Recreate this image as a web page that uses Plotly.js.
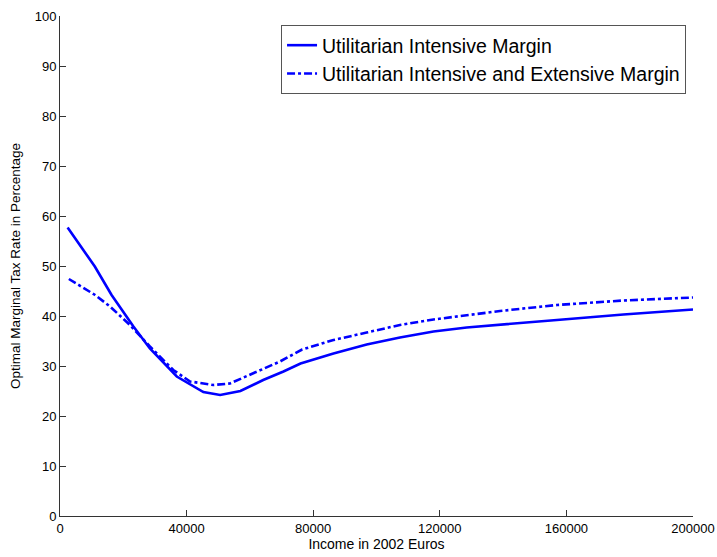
<!DOCTYPE html>
<html>
<head>
<meta charset="utf-8">
<script src="https://cdn.plot.ly/plotly-3.0.1.min.js"></script>
<style>html,body{margin:0;padding:0;background:#fff;}#chart{width:717px;height:557px;}</style>
</head>
<body>
<div id="chart"></div>
<script>
const seriesNames = ["Utilitarian Intensive Margin", "Utilitarian Intensive and Extensive Margin"];

const incomeIntensive = [2400, 11000, 16300, 23200, 28400, 36900, 45300, 50600, 57000, 64200, 70600, 76000, 86400, 96900, 107400, 118000, 128500, 139000, 157000, 178000, 200000];
const rateIntensive = [57.7, 49.9, 44.2, 37.9, 33.5, 27.9, 24.8, 24.2, 25.0, 27.2, 28.9, 30.5, 32.5, 34.3, 35.7, 36.9, 37.7, 38.3, 39.2, 40.3, 41.3];

const incomeBoth = [2800, 11100, 15800, 22100, 28400, 35800, 41100, 48400, 53700, 60000, 69500, 76500, 86400, 96900, 107400, 118000, 128500, 139000, 157000, 178000, 200000];
const rateBoth = [47.4, 44.2, 41.9, 38.2, 33.9, 29.2, 26.9, 26.2, 26.5, 28.2, 30.9, 33.3, 35.2, 36.7, 38.2, 39.3, 40.2, 41.0, 42.2, 43.1, 43.7];

const xTicks = [0, 40000, 80000, 120000, 160000, 200000];
const yTicks = [0, 10, 20, 30, 40, 50, 60, 70, 80, 90, 100];

const traces = [
  {x: incomeIntensive, y: rateIntensive, name: seriesNames[0], mode: "lines",
   line: {color: "#0000ff", width: 2.6}},
  {x: incomeBoth, y: rateBoth, name: seriesNames[1], mode: "lines",
   line: {color: "#0000ff", width: 2.6, dash: "8px,3px,3px,3px"}}
];

const axisCommon = {
  showgrid: false, zeroline: false, showline: true, linecolor: "#333", linewidth: 1,
  ticks: "inside", ticklen: 6, tickcolor: "#333", mirror: false,
  tickfont: {family: "Liberation Sans, Arial, sans-serif", size: 13, color: "#000"}
};

const layout = {
  width: 717, height: 557,
  margin: {l: 60, r: 24, t: 16, b: 41},
  paper_bgcolor: "#fff", plot_bgcolor: "#fff",
  font: {family: "Liberation Sans, Arial, sans-serif", size: 13, color: "#000"},
  xaxis: Object.assign({}, axisCommon, {
    range: [0, 200000], tickvals: xTicks, ticktext: xTicks.map(String),
    title: {text: "Income in 2002 Euros", font: {size: 14}, standoff: 4}
  }),
  yaxis: Object.assign({}, axisCommon, {
    range: [0, 100], tickvals: yTicks, ticktext: yTicks.map(String),
    title: {text: "Optimal Marginal Tax Rate in Percentage", font: {size: 13.5}, standoff: 10}
  }),
  showlegend: true,
  legend: {
    x: 0.989, y: 0.982, xanchor: "right", yanchor: "top",
    bgcolor: "#fff", bordercolor: "#555", borderwidth: 1,
    font: {family: "Liberation Sans, Arial, sans-serif", size: 19.5, color: "#000"},
    tracegroupgap: 0
  }
};

Plotly.newPlot("chart", traces, layout, {displayModeBar: false, staticPlot: true});
</script>
</body>
</html>
